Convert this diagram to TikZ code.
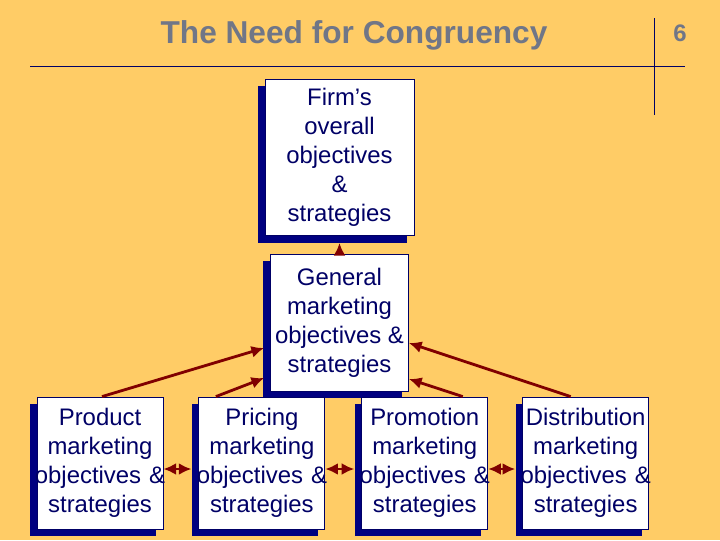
\documentclass[tikz,border=0pt]{standalone}
\usepackage{fontspec}
\setmainfont{Liberation Sans}
\usetikzlibrary{shadows,positioning,calc,arrows.meta}
\definecolor{bgorange}{RGB}{255,204,102}
\definecolor{boxnavy}{RGB}{0,0,128}
\definecolor{textnavy}{RGB}{0,0,102}
\definecolor{arrowred}{RGB}{128,0,0}
\definecolor{titlegray}{RGB}{112,118,135}

\begin{document}
\begin{tikzpicture}
  [x=0.025cm, y=-0.025cm,
   >={Latex[length=9pt,width=8.5pt]},
   goal/.style={
    rectangle,
    draw=textnavy,
    fill=white,
    line width=0.6pt,
    text=textnavy,
    align=center,
    inner sep=0pt,
    font=\fontsize{17}{20.6}\selectfont,
    drop shadow={shadow xshift=-0.175cm, shadow yshift=-0.175cm,
                 fill=boxnavy, opacity=1}
    },
   unit/.style={goal, text width=3.15cm, minimum height=3.3cm},
   link/.style={draw=arrowred, line width=2pt, ->},
   rule/.style={draw=textnavy, line width=0.6pt}
  ]
  % fondo
  \fill[bgorange] (0,0) rectangle (720,540);
  \useasboundingbox (0,0) rectangle (720,540);

  \node[text=titlegray, font=\fontsize{22.5}{27}\selectfont\bfseries] (title) at (354,35) {The Need for Congruency};
  \node[text=titlegray, font=\fontsize{17}{20}\selectfont\bfseries] (pagenum) at (680,33) {6};
  \draw[rule] (30,66) -- (685,66);
  \draw[rule] (654,18) -- (654,115);

  \node[goal, minimum width=3.72cm, minimum height=3.9cm] (firm) at (339.5,157.5)
    {Firm’s\\overall\\objectives\\\&\\strategies};
  \node[goal, minimum width=3.45cm, minimum height=3.42cm] (general) at (339.5,322.5)
    {General\\marketing\\objectives \&\\strategies};

  \node[unit] (product) at (100,463)
    {Product\\marketing\\\makebox[3.15cm]{objectives \&}\\strategies};
  \node[unit, right=0.875cm of product] (pricing)
    {Pricing\\marketing\\\makebox[3.15cm]{objectives \&}\\strategies};
  \node[unit, right=0.9cm of pricing] (promotion)
    {Promotion\\marketing\\\makebox[3.15cm]{objectives \&}\\strategies};
  \node[unit, right=0.85cm of promotion] (distribution)
    {Distribution\\marketing\\\makebox[3.15cm]{objectives \&}\\strategies};

  \draw[link] (general.north) -- ($(firm.south)+(0,7)$);

  \draw[link] ($(product.north)+(2,0)$) -- ($(general.west)+(-6,25.5)$);
  \draw[link] ($(pricing.north)+(-46,0)$) -- ($(general.west)+(-6,55.5)$);
  \draw[link] ($(promotion.north)+(38,0)$) -- ($(general.east)+(0,56.5)$);
  \draw[link] ($(distribution.north)+(-15,0)$) -- ($(general.east)+(0,20.5)$);

  \draw[link, <->] ($(product.east)+(0,6)$) -- ($(pricing.west)+(-7,6)$);
  \draw[link, <->] ($(pricing.east)+(0,6)$) -- ($(promotion.west)+(-7,6)$);
  \draw[link, <->] ($(promotion.east)+(0,6)$) -- ($(distribution.west)+(-7,6)$);
\end{tikzpicture}
\end{document}
